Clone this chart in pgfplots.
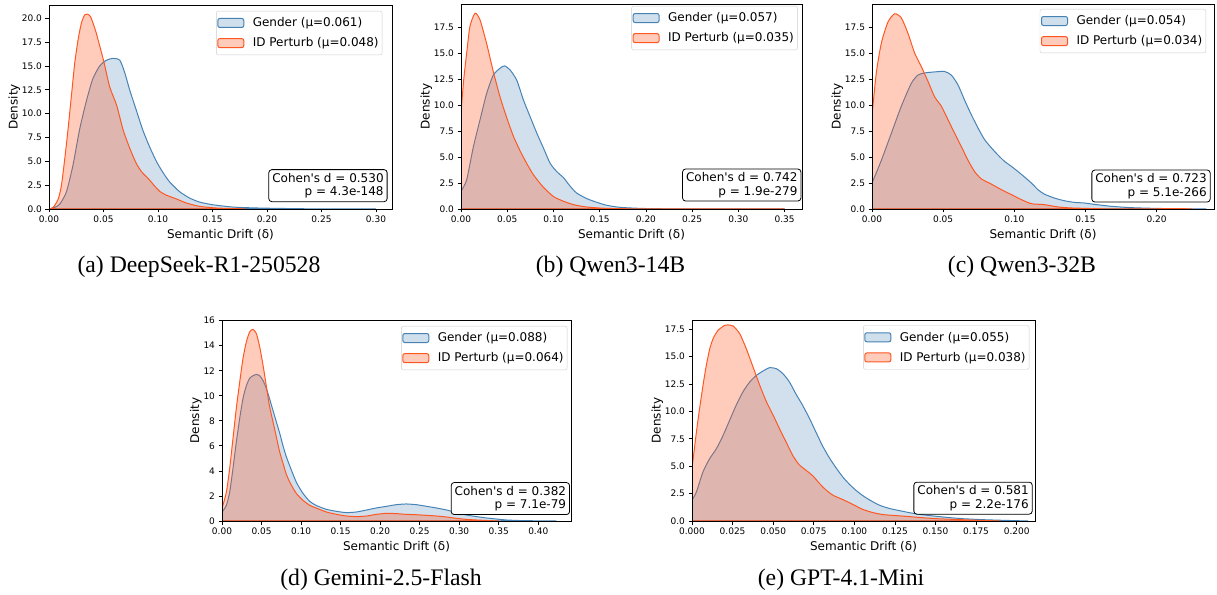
\documentclass[border=0pt]{standalone}
\usepackage{fontspec}
\setmainfont{DejaVu Sans}
\newfontfamily\capfont{Liberation Serif}
\usepackage{pgfplots}
\pgfplotsset{compat=1.18}

\definecolor{gblue}{RGB}{70,130,180}
\definecolor{iorange}{RGB}{255,87,34}

\tikzset{
  stat/.style={anchor=south east, draw=black, rounded corners=3pt, fill=white,
    align=right, font=\fontsize{12}{13.4}\selectfont, inner xsep=3.5pt, inner ysep=3.5pt, line width=0.8pt},
}
\pgfplotsset{
  kde/.style={
    scale only axis,
    xmin=0, ymin=0,
    axis on top,
    axis line style={line width=0.8pt},
    tick align=outside, tick pos=left,
    major tick length=3.5pt,
    every tick/.style={black, line width=0.8pt},
    scaled ticks=false,
    /pgf/number format/assume math mode=true,
    tick label style={font=\fontsize{9}{10}\selectfont},
    label style={font=\fontsize{12}{14}\selectfont},
    xlabel={Semantic Drift (δ)},
    ylabel={Density},
    ylabel shift=-5pt,
    legend cell align=left,
    legend style={draw=black!20, rounded corners=2pt, fill=white,
      font=\fontsize{12}{14}\selectfont, anchor=north east,
      inner xsep=1pt, inner ysep=4pt, row sep=4.5pt,
      nodes={inner sep=2.5pt},
      /tikz/every odd column/.append style={column sep=6pt}},
    legend image code/.code={\draw[#1] (0pt,-4.5pt) rectangle (26pt,4.5pt);},
  },
  gen/.style={draw=gblue, fill=gblue, fill opacity=0.25, line width=1pt, smooth, tension=0.4},
  idp/.style={draw=iorange, fill=iorange, fill opacity=0.3, line width=1pt, smooth, tension=0.4},
  xfmt/.style={xticklabel style={/pgf/number format/fixed, /pgf/number format/fixed zerofill, /pgf/number format/precision=#1}},
  yfmt/.style={yticklabel style={/pgf/number format/fixed, /pgf/number format/fixed zerofill, /pgf/number format/precision=#1}},
}

\begin{document}
\begin{tikzpicture}
\path[use as bounding box] (0pt,0pt) rectangle (1217pt,594pt);

% (a) DeepSeek
\begin{axis}[kde, at={(49pt,385pt)}, anchor=south west, width=343pt, height=204pt,
  xmax=0.3147, ymax=21.4,
  xtick={0,0.05,0.1,0.15,0.2,0.25,0.3}, ytick={0,2.5,5,7.5,10,12.5,15,17.5,20},
  xfmt=2, yfmt=1,
  legend style={at={(1,1)}, xshift=-9.7pt, yshift=-6pt}]
\addplot[gen] coordinates {
(0,0) (0.0049,0.15) (0.0098,0.5) (0.016,1.8) (0.022,4.6) (0.028,8.3) (0.034,11.2)
(0.040,13.6) (0.0465,15.0) (0.0526,15.6) (0.0588,15.8) (0.065,15.6) (0.0695,14.3)
(0.074,12.5) (0.080,10.4) (0.086,8.3) (0.092,6.6) (0.0985,5.0) (0.1047,3.8)
(0.111,2.8) (0.12,1.8) (0.129,1.15) (0.138,0.73) (0.15,0.45) (0.169,0.2)
(0.193,0.1) (0.23,0.03) (0.26,0.01) (0.30,0)
} \closedcycle;
\addlegendentry{Gender (μ=0.061)}
\addplot[idp] coordinates {
(0,0) (0.0037,0.15) (0.0083,1.0) (0.0113,2.4) (0.0144,5.2) (0.0174,8.3)
(0.0205,11.8) (0.0236,15.3) (0.0266,17.7) (0.0297,19.5) (0.0327,20.35)
(0.035,20.45) (0.038,20.2) (0.041,19.3) (0.0435,18.4) (0.05,15.6) (0.0557,12.8)
(0.062,10.9) (0.068,8.3) (0.074,6.4) (0.080,4.8) (0.085,3.9) (0.091,3.2)
(0.097,2.4) (0.1016,1.85) (0.1077,1.45) (0.117,1.05) (0.126,0.63) (0.138,0.28)
(0.154,0.1) (0.175,0.03) (0.18,0)
} \closedcycle;
\addlegendentry{ID Perturb (μ=0.048)}
\node[stat] at (rel axis cs:0.987,0.034) {Cohen\textquotesingle s d = 0.530\\p = 4.3e-148};
\end{axis}

% (b) Qwen3-14B
\begin{axis}[kde, at={(461pt,385pt)}, anchor=south west, width=341pt, height=205pt,
  xmax=0.3688, ymax=19.74,
  xtick={0,0.05,0.1,0.15,0.2,0.25,0.3,0.35}, ytick={0,2.5,5,7.5,10,12.5,15,17.5},
  xfmt=2, yfmt=1,
  legend style={at={(1,1)}, xshift=-4.4pt, yshift=-2pt}]
\addplot[gen] coordinates {
(0,1.7) (0.0061,2.8) (0.0134,6.0) (0.0206,8.6) (0.0278,11.15) (0.035,12.9)
(0.0422,13.55) (0.047,13.78) (0.053,13.4) (0.0603,12.4) (0.0675,10.5)
(0.0747,8.9) (0.082,7.3) (0.089,5.9) (0.0964,4.4) (0.1036,3.6) (0.111,3.0)
(0.118,2.2) (0.125,1.54) (0.136,1.0) (0.147,0.64) (0.158,0.35) (0.172,0.16)
(0.194,0.06) (0.223,0.02) (0.35,0)
} \closedcycle;
\addlegendentry{Gender (μ=0.057)}
\addplot[idp] coordinates {
(0,9.3) (0.003,12.5) (0.0061,15.0) (0.0097,17.6) (0.0152,18.85) (0.0206,18.2)
(0.0278,15.9) (0.035,13.2) (0.0422,10.8) (0.0494,8.8) (0.0567,7.0)
(0.0639,5.6) (0.071,4.4) (0.0783,3.3) (0.089,2.1) (0.1,1.2) (0.111,0.74)
(0.1216,0.42) (0.136,0.19) (0.158,0.06) (0.2,0.01) (0.35,0)
} \closedcycle;
\addlegendentry{ID Perturb (μ=0.035)}
\node[stat] at (rel axis cs:0.998,0.037) {Cohen\textquotesingle s d = 0.742\\p = 1.9e-279};
\end{axis}

% (c) Qwen3-32B
\begin{axis}[kde, at={(872pt,385pt)}, anchor=south west, width=342pt, height=205pt,
  xmax=0.2403, ymax=19.74,
  xtick={0,0.05,0.1,0.15,0.2}, ytick={0,2.5,5,7.5,10,12.5,15,17.5},
  xfmt=2, yfmt=1,
  legend style={at={(1,1)}, xshift=-8pt, yshift=-5pt}]
\addplot[gen] coordinates {
(0,2.5) (0.0066,4.7) (0.0136,7.3) (0.0206,9.9) (0.0276,12.1) (0.0323,12.9)
(0.037,13.1) (0.044,13.2) (0.051,13.24) (0.0557,12.9) (0.0604,11.95)
(0.065,10.5) (0.0698,9.07) (0.0745,7.8) (0.079,6.7) (0.0838,5.9) (0.0885,5.2)
(0.093,4.6) (0.098,4.1) (0.1026,3.6) (0.107,3.1) (0.112,2.5) (0.1166,1.86)
(0.121,1.44) (0.128,1.06) (0.135,0.8) (0.142,0.64) (0.149,0.58) (0.156,0.45)
(0.168,0.26) (0.182,0.13) (0.199,0.06) (0.222,0.01) (0.235,0)
} \closedcycle;
\addlegendentry{Gender (μ=0.054)}
\addplot[idp] coordinates {
(0,9.0) (0.003,13.1) (0.0066,16.0) (0.0112,18.0) (0.0159,18.8) (0.0206,18.4)
(0.0253,16.9) (0.03,15.0) (0.0347,13.7) (0.0393,12.3) (0.044,10.8) (0.0487,9.9)
(0.0534,8.6) (0.058,7.3) (0.0628,6.0) (0.0674,4.7) (0.0721,3.6) (0.0768,2.9)
(0.0838,2.4) (0.0909,1.86) (0.098,1.38) (0.105,0.9) (0.112,0.51) (0.121,0.42)
(0.131,0.19) (0.14,0.1) (0.152,0.05) (0.163,0.02) (0.19,0.01) (0.215,0.04) (0.225,0)
} \closedcycle;
\addlegendentry{ID Perturb (μ=0.034)}
\node[stat] at (rel axis cs:0.990,0.032) {Cohen\textquotesingle s d = 0.723\\p = 5.1e-266};
\end{axis}

% (d) Gemini
\begin{axis}[kde, at={(222pt,73pt)}, anchor=south west, width=349pt, height=201pt,
  xmax=0.4414, ymax=16.05,
  xtick={0,0.05,0.1,0.15,0.2,0.25,0.3,0.35,0.4}, ytick={0,2,4,6,8,10,12,14,16},
  xfmt=2, yfmt=0,
  legend style={at={(1,1)}, xshift=-3.7pt, yshift=-6pt}]
\addplot[gen] coordinates {
(0,0.7) (0.0055,1.25) (0.0097,2.3) (0.0139,4.2) (0.0181,6.3) (0.0224,8.2)
(0.0266,9.8) (0.0308,10.8) (0.035,11.4) (0.0392,11.6) (0.0435,11.7) (0.0477,11.6)
(0.052,11.2) (0.056,10.6) (0.060,9.8) (0.0646,8.8) (0.0688,7.9) (0.073,7.0)
(0.0772,6.0) (0.081,5.2) (0.0857,4.4) (0.094,3.1) (0.1025,2.2) (0.111,1.57)
(0.119,1.25) (0.132,0.93) (0.145,0.77) (0.157,0.67) (0.17,0.72) (0.183,0.88)
(0.195,1.04) (0.208,1.17) (0.22,1.3) (0.233,1.36) (0.246,1.3) (0.259,1.17)
(0.271,1.04) (0.284,0.88) (0.297,0.67) (0.309,0.48) (0.322,0.35) (0.335,0.24)
(0.347,0.16) (0.36,0.08) (0.381,0.03) (0.423,0)
} \closedcycle;
\addlegendentry{Gender (μ=0.088)}
\addplot[idp] coordinates {
(0,1.0) (0.0055,2.3) (0.0097,4.2) (0.0139,6.6) (0.0181,9.0) (0.0224,11.1)
(0.0266,13.0) (0.0308,14.3) (0.035,15.1) (0.0392,15.3) (0.0435,14.96)
(0.0477,13.9) (0.052,12.4) (0.056,10.8) (0.060,9.2) (0.0646,7.9) (0.0688,6.7)
(0.073,5.5) (0.0772,4.6) (0.081,3.8) (0.0857,3.1) (0.094,2.2) (0.1025,1.65)
(0.111,1.25) (0.119,1.04) (0.132,0.72) (0.145,0.53) (0.157,0.4) (0.17,0.35)
(0.183,0.4) (0.195,0.53) (0.208,0.61) (0.22,0.59) (0.233,0.53) (0.246,0.5)
(0.259,0.45) (0.271,0.4) (0.284,0.32) (0.297,0.21) (0.309,0.13) (0.322,0.08)
(0.339,0.03) (0.35,0)
} \closedcycle;
\addlegendentry{ID Perturb (μ=0.064)}
\node[stat] at (rel axis cs:0.997,0.03) {Cohen\textquotesingle s d = 0.382\\p = 7.1e-79};
\end{axis}

% (e) GPT-4.1-Mini
\begin{axis}[kde, at={(692pt,73pt)}, anchor=south west, width=343pt, height=201pt,
  xmax=0.2113, ymax=18.35,
  xtick={0,0.025,0.05,0.075,0.1,0.125,0.15,0.175,0.2}, ytick={0,2.5,5,7.5,10,12.5,15,17.5},
  xfmt=3, yfmt=1,
  legend style={at={(1,1)}, xshift=-5.7pt, yshift=-5.3pt}]
\addplot[gen] coordinates {
(0,1.9) (0.0027,2.65) (0.0068,4.5) (0.0109,5.7) (0.015,6.6) (0.0191,7.8)
(0.0232,9.2) (0.0273,10.6) (0.0314,11.8) (0.0356,12.7) (0.0397,13.3)
(0.0438,13.7) (0.0479,14.0) (0.052,13.9) (0.056,13.45) (0.060,12.7) (0.064,11.6)
(0.068,10.6) (0.0726,9.3) (0.0767,8.0) (0.0808,6.75) (0.0849,5.7) (0.089,4.8)
(0.093,4.0) (0.097,3.35) (0.101,2.8) (0.105,2.34) (0.1096,1.9) (0.1157,1.43)
(0.122,1.13) (0.128,0.94) (0.134,0.76) (0.140,0.61) (0.1486,0.46) (0.157,0.33)
(0.167,0.21) (0.1795,0.12) (0.192,0.06) (0.2,0.03) (0.207,0)
} \closedcycle;
\addlegendentry{Gender (μ=0.055)}
\addplot[idp] coordinates {
(0,4.8) (0.0027,8.1) (0.0047,10.3) (0.0068,12.4) (0.0088,14.2) (0.0109,15.7)
(0.013,16.65) (0.016,17.4) (0.0201,17.86) (0.022,17.9) (0.0253,17.8) (0.0294,17.1)
(0.0335,15.7) (0.0376,14.06) (0.0417,12.4) (0.0458,10.9) (0.05,9.65) (0.054,8.4)
(0.058,7.2) (0.062,6.0) (0.066,5.14) (0.0705,4.6) (0.0746,4.1) (0.0787,3.4)
(0.0828,2.8) (0.087,2.34) (0.093,1.95) (0.0993,1.5) (0.105,1.07) (0.1116,0.76)
(0.118,0.58) (0.126,0.49) (0.134,0.4) (0.142,0.3) (0.151,0.21) (0.161,0.15)
(0.171,0.09) (0.1835,0.03) (0.19,0)
} \closedcycle;
\addlegendentry{ID Perturb (μ=0.038)}
\node[stat] at (rel axis cs:0.993,0.032) {Cohen\textquotesingle s d = 0.581\\p = 2.2e-176};
\end{axis}

\begin{scope}[every node/.style={font=\capfont\fontsize{23.7}{26}\selectfont, anchor=base, inner sep=0pt}]
\node at (199pt,321pt) {(a) DeepSeek-R1-250528};
\node at (610.5pt,321pt) {(b) Qwen3-14B};
\node at (1022pt,321pt) {(c) Qwen3-32B};
\node at (381pt,9pt) {(d) Gemini-2.5-Flash};
\node at (841pt,9pt) {(e) GPT-4.1-Mini};
\end{scope}
\end{tikzpicture}
\end{document}
